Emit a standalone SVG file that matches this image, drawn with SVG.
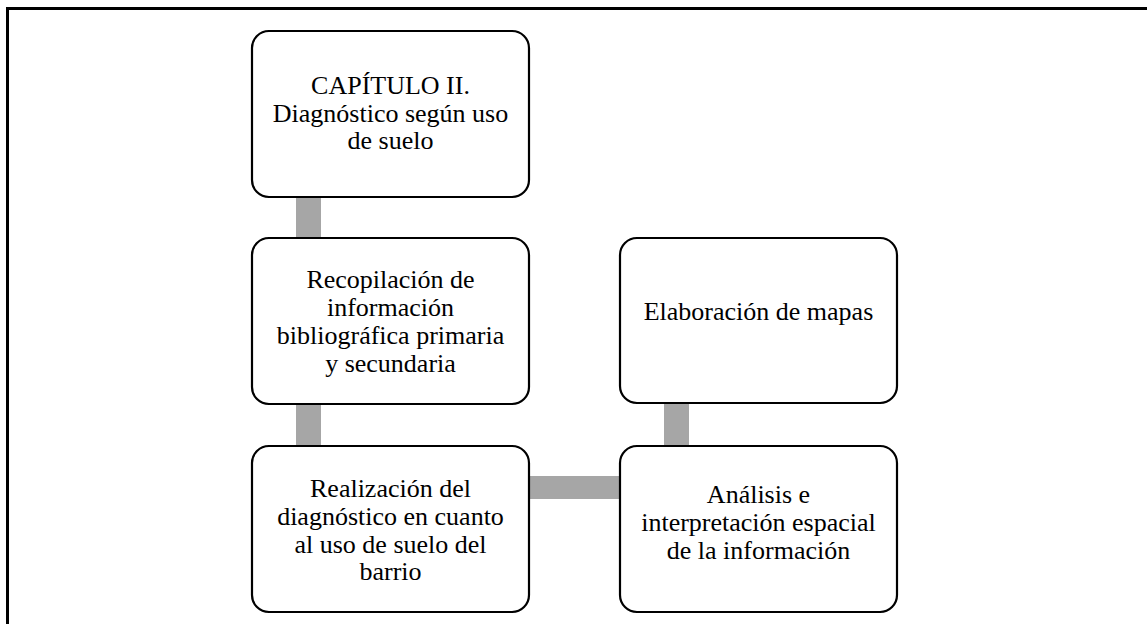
<svg xmlns="http://www.w3.org/2000/svg" width="1147" height="624" viewBox="0 0 1147 624">
<style>
.node{fill:#fff;stroke:#000;stroke-width:2.2}
.conn{fill:#a6a6a6;stroke:none}
</style>
<rect width="1147" height="624" fill="#fff"/>
<path d="M7.5,624 V8.5 H1147" fill="none" stroke="#000" stroke-width="3"/>
<g id="connectors">
<rect class="conn" x="296" y="197" width="25" height="42"/>
<rect class="conn" x="296" y="404" width="25" height="43"/>
<rect class="conn" x="529" y="476" width="92" height="23"/>
<rect class="conn" x="664" y="403" width="25" height="44"/>
</g>
<g font-family="'Liberation Serif', 'Times New Roman', 'DejaVu Serif', serif" font-size="26" fill="#000" text-anchor="middle">
<g id="n1">
<rect class="node" x="252" y="31" width="277" height="166" rx="17"/>
<text><tspan x="390.5" y="94">CAPÍTULO II.</tspan><tspan x="390.5" y="122">Diagnóstico según uso</tspan><tspan x="390.5" y="149">de suelo</tspan></text>
</g>
<g id="n2">
<rect class="node" x="252" y="238" width="277" height="166" rx="17"/>
<text><tspan x="390.5" y="288">Recopilación de</tspan><tspan x="390.5" y="316">información</tspan><tspan x="390.5" y="344">bibliográfica primaria</tspan><tspan x="390.5" y="372">y secundaria</tspan></text>
</g>
<g id="n3">
<rect class="node" x="252" y="446" width="277" height="166" rx="17"/>
<text><tspan x="390.5" y="497">Realización del</tspan><tspan x="390.5" y="525">diagnóstico en cuanto</tspan><tspan x="390.5" y="553">al uso de suelo del</tspan><tspan x="390.5" y="580">barrio</tspan></text>
</g>
<g id="n4">
<rect class="node" x="620" y="446" width="277" height="166" rx="17"/>
<text><tspan x="758.5" y="503">Análisis e</tspan><tspan x="758.5" y="531">interpretación espacial</tspan><tspan x="758.5" y="559">de la información</tspan></text>
</g>
<g id="n5">
<rect class="node" x="620" y="238" width="277" height="165" rx="17"/>
<text><tspan x="758.5" y="320">Elaboración de mapas</tspan></text>
</g>
</g>
</svg>
